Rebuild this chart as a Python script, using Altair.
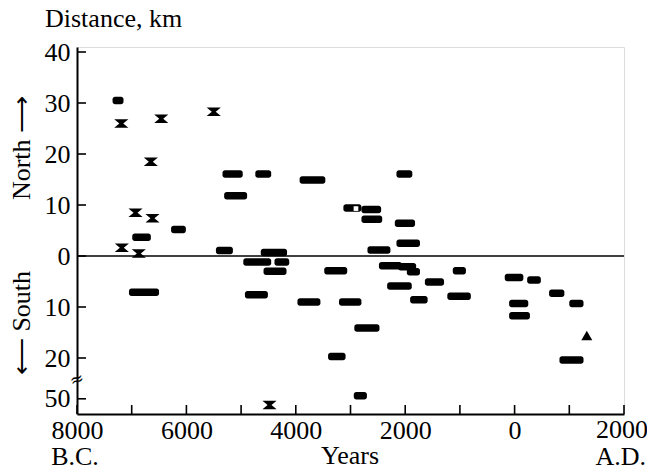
import altair as alt
import pandas as pd

# ---- data (years: negative = B.C.; distance: + north, - south;
#      values below -25 are drawn in the broken section, where the "50" tick sits at -28)
bar_start = [-7350, -5340, -4740, -3930, -5310, -6280, -6990, -5460, -4640,
             -2160, -3130, -2800, -2800, -2190, -2160, -2690,
             -7050, -4960, -4390, -4590, -4930, -3480, -3970, -3410, -3210,
             -2480, -2130, -1970, -2330, -1640, -1130, -1910, -1230, -2930, -2940,
             -180, 230, -100, -100, 630, 1000, 820]
bar_end = [-7150, -4970, -4450, -3460, -4890, -6010, -6650, -5150, -4160,
           -1870, -2800, -2440, -2420, -1820, -1730, -2270,
           -6500, -4450, -4120, -4170, -4510, -3060, -3550, -3090, -2800,
           -2060, -1800, -1730, -1880, -1290, -890, -1590, -800, -2470, -2700,
           160, 480, 250, 280, 910, 1260, 1260]
bar_dist = [30.5, 16.1, 16.1, 14.9, 11.8, 5.2, 3.7, 1.1, 0.7,
            16.1, 9.4, 9.1, 7.2, 6.4, 2.5, 1.2,
            -7.1, -1.2, -1.2, -3.0, -7.6, -2.9, -9.0, -19.7, -9.0,
            -1.9, -2.1, -3.1, -5.9, -5.1, -2.9, -8.6, -7.9, -14.1, -27.4,
            -4.2, -4.7, -9.3, -11.7, -7.3, -9.3, -20.4]

hg_year = [-7190, -6460, -5500, -6650, -6930, -6620, -7180, -6870, -4480]
hg_dist = [26.0, 26.9, 28.3, 18.5, 8.5, 7.4, 1.6, 0.5, -29.2]

tri_year = [1320]
tri_dist = [-15.6]

sq_year = [-2900]
sq_dist = [9.3]

y_tick_values = [40, 30, 20, 10, 0, -10, -20, -28]
x_tick_values = [-8000, -7000, -6000, -5000, -4000, -3000, -2000, -1000, 0, 1000, 2000]
x_label_values = [-8000, -6000, -4000, -2000, 0]
x_last_label = [2000]

W, H = 547, 367
FONT = "Liberation Serif"

xs = alt.Scale(domain=[-8000, 2000], nice=False, zero=False)
ys = alt.Scale(domain=[-30, 40], nice=False, zero=False)

x_axis = alt.Axis(values=x_label_values, labelExpr="'' + abs(datum.value)",
                  ticks=False, grid=False, domainColor="black", domainWidth=2,
                  labelFont=FONT, labelFontSize=26, labelColor="black",
                  labelPadding=3, title=None, labelFlush=False, labelOverlap=False)
y_axis = alt.Axis(values=y_tick_values,
                  labelExpr="datum.value == -28 ? '50' : '' + abs(datum.value)",
                  ticks=False, grid=False, domainColor="black", domainWidth=2,
                  labelFont=FONT, labelFontSize=26, labelColor="black",
                  labelPadding=7, title=None, labelFlush=False, labelOverlap=False)


def X(field):
    return alt.X(field, scale=xs, axis=x_axis, title=None)


def Y(field):
    return alt.Y(field, scale=ys, axis=y_axis, title=None)


bars_df = pd.DataFrame({"start": bar_start, "end": bar_end, "dist": bar_dist})
hg_df = pd.DataFrame({"year": hg_year, "dist": hg_dist})
tri_df = pd.DataFrame({"year": tri_year, "dist": tri_dist})
sq_df = pd.DataFrame({"year": sq_year, "dist": sq_dist})

bars = alt.Chart(bars_df).mark_bar(size=7.5, cornerRadius=2.5, color="black").encode(
    x=X("start:Q"), x2="end:Q", y=Y("dist:Q"),
)

hourglass = "M-1,-0.6L1,-0.6L0.28,0L1,0.6L-1,0.6L-0.28,0Z"
hgs = alt.Chart(hg_df).mark_point(shape=hourglass, size=200, filled=True,
                                  color="black", opacity=1).encode(
    x=X("year:Q"), y=Y("dist:Q"),
)

tri = alt.Chart(tri_df).mark_point(shape="triangle-up", size=120, filled=True,
                                   color="black", opacity=1).encode(
    x=X("year:Q"), y=Y("dist:Q"),
)

sq = alt.Chart(sq_df).mark_point(shape="square", size=22, filled=True,
                                 color="white", opacity=1).encode(
    x=X("year:Q"), y=Y("dist:Q"),
)

zero = alt.Chart(pd.DataFrame({"y": [0]})).mark_rule(color="black", strokeWidth=1.6).encode(
    y=Y("y:Q")
)

ytick = alt.Chart(pd.DataFrame({"v": y_tick_values})).mark_rule(color="black", strokeWidth=1.6).encode(
    y=Y("v:Q"), x=alt.value(0), x2=alt.value(9)
)
xtick = alt.Chart(pd.DataFrame({"v": x_tick_values})).mark_rule(color="black", strokeWidth=1.6).encode(
    x=X("v:Q"), y=alt.value(H), y2=alt.value(H - 9)
)

# last x label (A.D. 2000) drawn separately, nudged so it is not clipped at the edge
last_lbl = alt.Chart(pd.DataFrame({"v": x_last_label})).transform_calculate(
    t="'' + abs(datum.v)"
).mark_text(font=FONT, fontSize=26, color="black", baseline="top", dx=-2, dy=3).encode(
    x=X("v:Q"), y=alt.value(H), text="t:N"
)

brk = alt.Chart(pd.DataFrame({"t": ["≈"], "y": [-24.3]})).mark_text(
    font="DejaVu Serif", fontSize=17, color="black", angle=340).encode(
    x=alt.value(0), y=Y("y:Q"), text="t:N"
)


def label(txt, x, y, size=26, angle=0, align="center", baseline="alphabetic", font=FONT):
    return alt.Chart(pd.DataFrame({"t": [txt]})).mark_text(
        font=font, fontSize=size, color="black", angle=angle, align=align, baseline=baseline
    ).encode(x=alt.value(x), y=alt.value(y), text="t:N")


title = label("Distance, km", -32, -20, size=26, align="left")
north = label("North ⟶", -55, 101, size=26, angle=270, baseline="middle")
south = label("⟵ South", -55, 276, size=26, angle=270, baseline="middle")
bc = label("B.C.", -2, 418)
years = label("Years", 273, 417)
ad = label("A.D.", 569, 418, align="right")

chart = alt.layer(
    zero, bars, hgs, tri, sq, ytick, xtick, last_lbl, brk, title, north, south, bc, years, ad
).properties(
    width=W, height=H,
    padding={"left": 69, "top": 39, "right": 23, "bottom": 53},
    autosize="none",
).configure_view(stroke=None).configure(background="white")

chart.save("out.html", embed_options={"renderer": "svg", "actions": False})
